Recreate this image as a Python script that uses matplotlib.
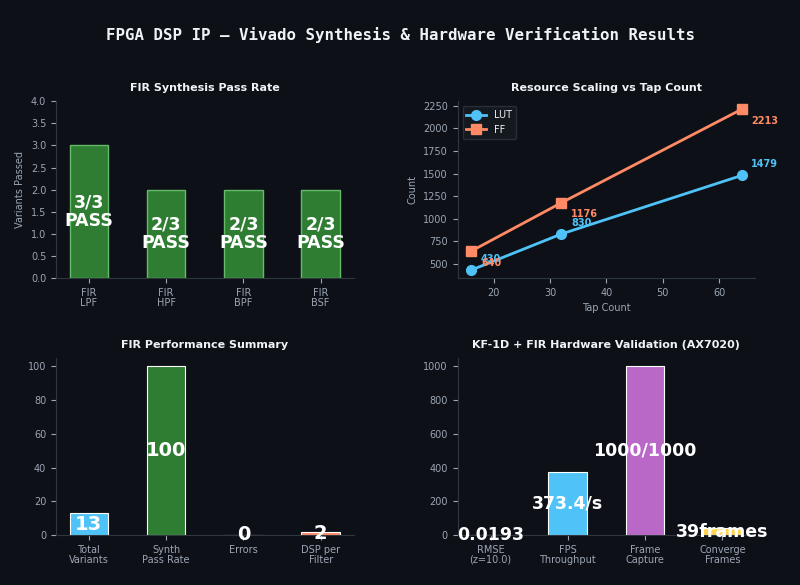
import numpy as np
import matplotlib
matplotlib.use('Agg')
import matplotlib.pyplot as plt

bg = '#0d1117'
fg = '#f0f3f6'
tick_c = '#9da5b4'
spine_c = '#30363d'

# --- data ---
filters = ['FIR\nLPF', 'FIR\nHPF', 'FIR\nBPF', 'FIR\nBSF']
passed = [3, 2, 2, 2]
total = [3, 3, 3, 3]

taps = [16, 32, 64]
lut = [430, 830, 1479]
ff = [640, 1176, 2213]

perf_labels = ['Total\nVariants', 'Synth\nPass Rate', 'Errors', 'DSP per\nFilter']
perf_values = [13, 100, 0, 2]
perf_text = ['13', '100', '0', '2']

hw_labels = ['RMSE\n(z=10.0)', 'FPS\nThroughput', 'Frame\nCapture', 'Converge\nFrames']
hw_values = [0.0193, 373.4, 1000, 39]
hw_text = ['0.0193', '373.4/s', '1000/1000', '39frames']

green = '#2e7d32'
blue = '#4fc3f7'
orange = '#ff8a65'
purple = '#ba68c8'
yellow = '#ffd54f'

plt.rcParams['axes.facecolor'] = bg
plt.rcParams['figure.facecolor'] = bg
plt.rcParams['axes.edgecolor'] = spine_c
plt.rcParams['xtick.color'] = tick_c
plt.rcParams['ytick.color'] = tick_c
plt.rcParams['xtick.labelsize'] = 7
plt.rcParams['ytick.labelsize'] = 7
plt.rcParams['axes.labelcolor'] = tick_c
plt.rcParams['axes.labelsize'] = 7
plt.rcParams['axes.titlepad'] = 7

fig, axs = plt.subplots(2, 2, figsize=(8, 5.85), dpi=100)
fig.subplots_adjust(left=0.07, right=0.944, top=0.827, bottom=0.0855, hspace=0.452, wspace=0.35)
fig.suptitle('FPGA DSP IP — Vivado Synthesis & Hardware Verification Results',
             family='DejaVu Sans Mono', fontsize=11.3, fontweight='bold', color=fg, y=0.953)

for ax in axs.flat:
    ax.spines['top'].set_visible(False)
    ax.spines['right'].set_visible(False)

title_kw = dict(color=fg, fontsize=8, fontweight='bold')

# top-left
ax = axs[0, 0]
x = np.arange(len(filters))
ax.bar(x, passed, width=0.5, color=green, edgecolor='#66bb6a', linewidth=1)
for i in range(len(filters)):
    ax.text(x[i], passed[i] / 2, f'{passed[i]}/{total[i]}\nPASS', ha='center', va='center',
            color='white', fontsize=12.5, fontweight='bold', linespacing=1.0)
ax.set_xticks(x)
ax.set_xticklabels(filters, linespacing=1.0)
ax.set_ylim(0, 4)
ax.set_ylabel('Variants Passed')
ax.set_title('FIR Synthesis Pass Rate', **title_kw)

# top-right
ax = axs[0, 1]
ax.plot(taps, lut, '-o', color=blue, lw=2, ms=7, label='LUT')
ax.plot(taps, ff, '-s', color=orange, lw=2, ms=7, label='FF')
for t, v in zip(taps, lut):
    ax.annotate(str(v), (t, v), xytext=(7, 6), textcoords='offset points',
                color=blue, fontsize=7, fontweight='bold')
for t, v in zip(taps, ff):
    ax.annotate(str(v), (t, v), xytext=(7, -10.5), textcoords='offset points',
                color=orange, fontsize=7, fontweight='bold')
ax.set_xlabel('Tap Count')
ax.set_ylabel('Count')
ax.set_title('Resource Scaling vs Tap Count', **title_kw)
ax.legend(loc='upper left', fontsize=7, facecolor='#161b22', edgecolor=spine_c, labelcolor=fg)

# bottom-left
ax = axs[1, 0]
x = np.arange(len(perf_labels))
ax.bar(x, perf_values, width=0.5, color=[blue, green, '#ef5350', orange], edgecolor='white', linewidth=0.8)
for i in range(len(perf_labels)):
    ax.text(x[i], perf_values[i] / 2, perf_text[i], ha='center', va='center',
            color='white', fontsize=14, fontweight='bold')
ax.set_xticks(x)
ax.set_xticklabels(perf_labels, linespacing=1.0)
ax.set_title('FIR Performance Summary', **title_kw)

# bottom-right
ax = axs[1, 1]
x = np.arange(len(hw_labels))
ax.bar(x, hw_values, width=0.5, color=[green, blue, purple, yellow], edgecolor='white', linewidth=0.8)
for i in range(len(hw_labels)):
    ax.text(x[i], hw_values[i] / 2, hw_text[i], ha='center', va='center',
            color='white', fontsize=12.5, fontweight='bold')
ax.set_xticks(x)
ax.set_xticklabels(hw_labels, linespacing=1.0)
ax.set_title('KF-1D + FIR Hardware Validation (AX7020)', **title_kw)

fig.savefig('out.png', dpi=100, facecolor=bg)
